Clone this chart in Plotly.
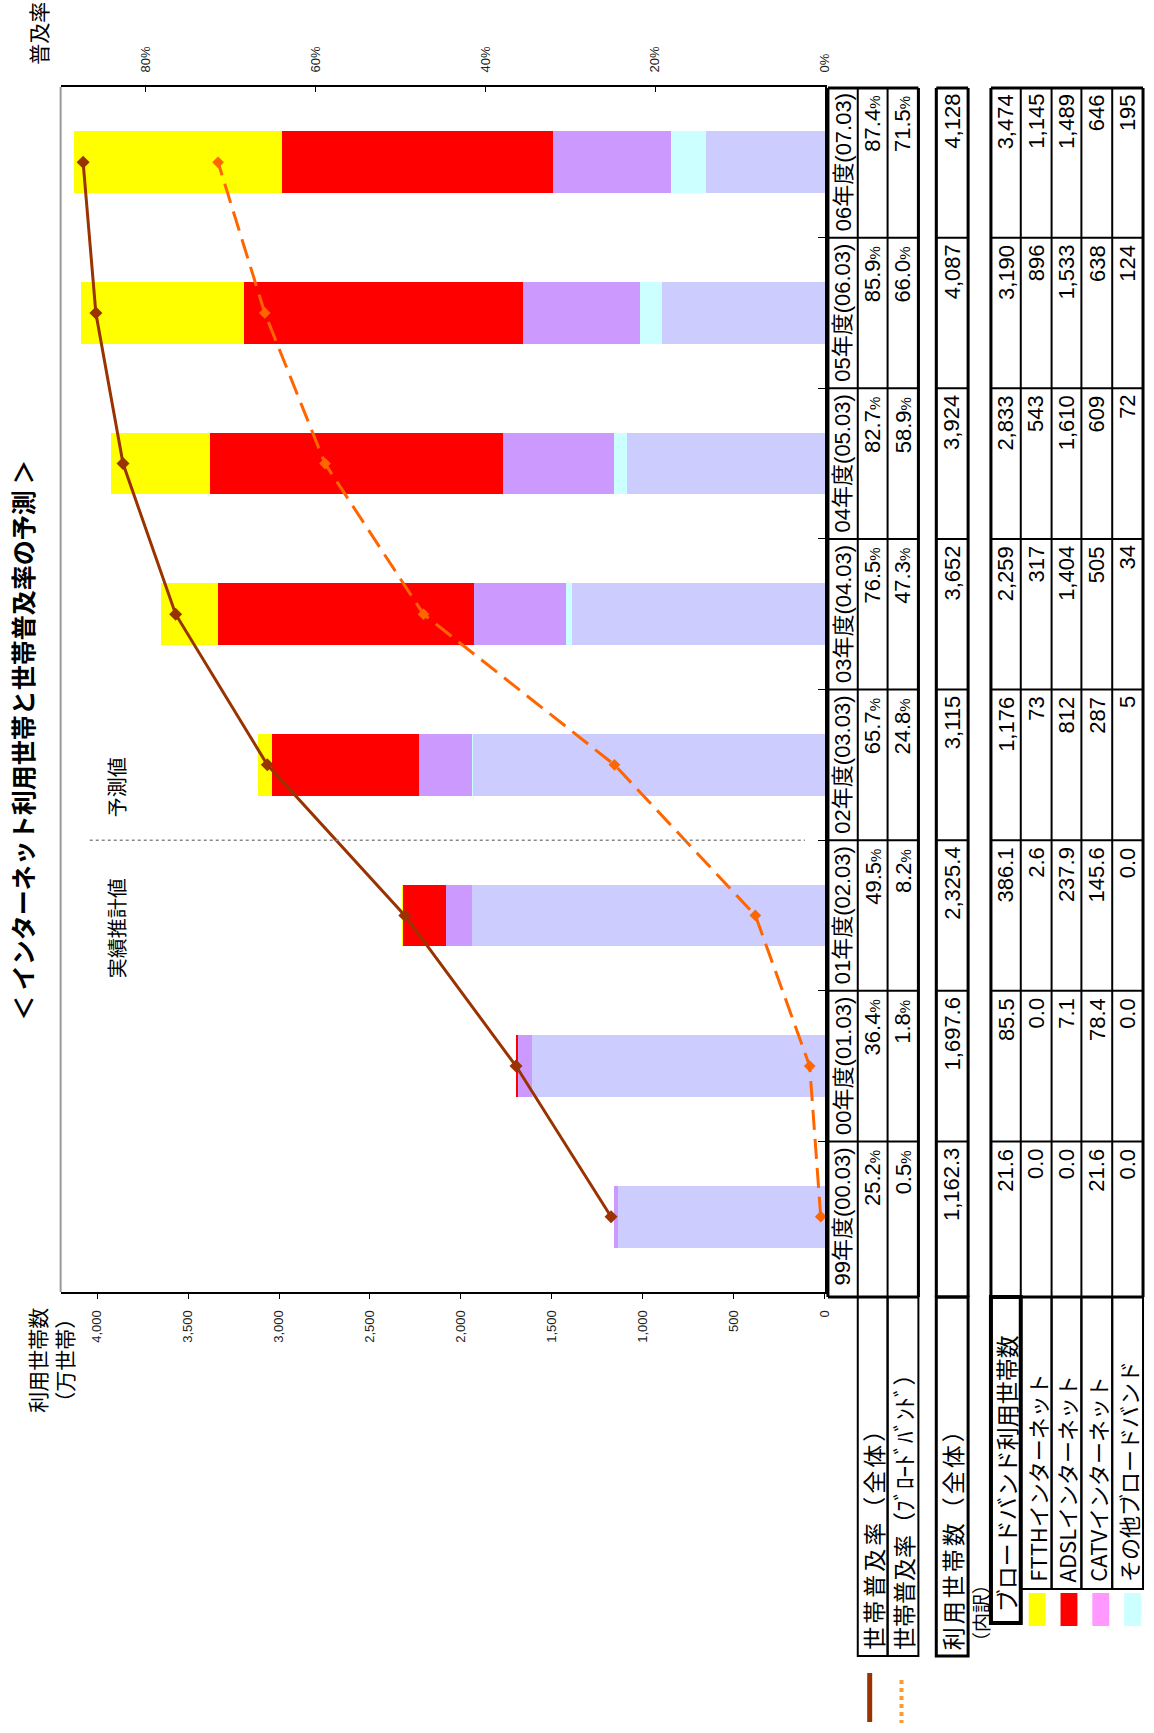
import plotly.graph_objects as go

W, H = 1154, 1733

# ---- data -------------------------------------------------------------
YEARS = ["99年度(00.03)", "00年度(01.03)", "01年度(02.03)", "02年度(03.03)",
         "03年度(04.03)", "04年度(05.03)", "05年度(06.03)", "06年度(07.03)"]
RATE_ALL = [25.2, 36.4, 49.5, 65.7, 76.5, 82.7, 85.9, 87.4]      # 世帯普及率（全体） %
RATE_BB = [0.5, 1.8, 8.2, 24.8, 47.3, 58.9, 66.0, 71.5]          # 世帯普及率（ブロードバンド） %
HOUSEHOLDS = [1162.3, 1697.6, 2325.4, 3115, 3652, 3924, 4087, 4128]  # 利用世帯数（全体） 万世帯
BB_TOTAL = [21.6, 85.5, 386.1, 1176, 2259, 2833, 3190, 3474]
FTTH = [0.0, 0.0, 2.6, 73, 317, 543, 896, 1145]
ADSL = [0.0, 7.1, 237.9, 812, 1404, 1610, 1533, 1489]
CATV = [21.6, 78.4, 145.6, 287, 505, 609, 638, 646]
OTHER_BB = [0.0, 0.0, 0.0, 5, 34, 72, 124, 195]
DECIMALS = [1, 1, 1, 0, 0, 0, 0, 0]
VALUE_TICKS = [0, 500, 1000, 1500, 2000, 2500, 3000, 3500, 4000]
RATE_TICKS = [0, 20, 40, 60, 80]

NON_BB = [t - b for t, b in zip(HOUSEHOLDS, BB_TOTAL)]

# ---- styling ----------------------------------------------------------
LAT = "Liberation Sans, Arial, Noto Sans CJK JP, sans-serif"
JP = "Noto Sans CJK JP, sans-serif"
C_NON = "#CCCCFF"
C_OTHER = "#CCFFFF"
C_CATV = "#CC99FF"
C_ADSL = "#FF0000"
C_FTTH = "#FFFF00"
C_ALL = "#993300"
C_BB = "#FF6600"

PLOT_L, PLOT_R, PLOT_T, PLOT_B = 61, 830, 87, 1292


def px(x):
    return x / W


def py(y):
    return 1 - y / H


fig = go.Figure()

# stacked household bars (horizontal, value axis grows to the left)
for name, vals, col in [("非ブロードバンド", NON_BB, C_NON),
                        ("その他ブロードバンド", OTHER_BB, C_OTHER),
                        ("CATVインターネット", CATV, C_CATV),
                        ("ADSLインターネット", ADSL, C_ADSL),
                        ("FTTHインターネット", FTTH, C_FTTH)]:
    fig.add_trace(go.Bar(x=vals, y=YEARS, orientation="h", name=name,
                         marker=dict(color=col, line=dict(width=0)),
                         width=0.41, xaxis="x", yaxis="y", showlegend=False))

# penetration-rate lines on the percentage axis
fig.add_trace(go.Scatter(x=RATE_ALL, y=YEARS, xaxis="x2", yaxis="y",
                         mode="lines+markers", showlegend=False,
                         line=dict(color=C_ALL, width=3),
                         marker=dict(symbol="diamond", size=10, color=C_ALL)))
fig.add_trace(go.Scatter(x=RATE_BB, y=YEARS, xaxis="x2", yaxis="y",
                         mode="lines+markers", showlegend=False,
                         line=dict(color=C_BB, width=3, dash="20px,9px"),
                         marker=dict(symbol="diamond", size=9, color=C_BB)))

shapes = []
ann = []


def free_text(text, x, y, size, family=JP, bold=False):
    if bold:
        text = f"<b>{text}</b>"
    ann.append(dict(text=text, xref="paper", yref="paper", x=px(x), y=py(y),
                    xanchor="center", yanchor="middle", textangle=-90, showarrow=False,
                    font=dict(family=family, size=size, color="#000")))


# left frame edge
shapes.append(dict(type="line", xref="paper", yref="paper",
                   x0=px(PLOT_L), x1=px(PLOT_L), y0=py(PLOT_T), y1=py(PLOT_B),
                   line=dict(color="#999999", width=2)))
# separator between estimates and forecasts
shapes.append(dict(type="line", xref="x", yref="y", x0=4040, x1=110, y0=2.5, y1=2.5,
                   line=dict(color="#888888", width=1.5, dash="dot")))
free_text("実績推計値", 117, 928, 20)
free_text("予測値", 117, 787, 20)

# titles
free_text("＜ インターネット利用世帯と世帯普及率の予測 ＞", 22, 740, 25, bold=True)
free_text("普及率", 38, 33, 21)
free_text("利用世帯数<br>（万世帯）", 50, 1360, 21)

# ---- data table -------------------------------------------------------
BAND = (PLOT_B - PLOT_T) / 8.0
TT, TB = 88, 1297   # table data section top / bottom


def band(j):
    top = PLOT_T + (7 - j) * BAND
    return top, top + BAND


def rect(x0, y0, x1, y1, w=2):
    shapes.append(dict(type="rect", xref="paper", yref="paper",
                       x0=px(x0), x1=px(x1), y0=py(y0), y1=py(y1),
                       line=dict(color="#000", width=w), fillcolor="rgba(0,0,0,0)"))


def hline(x0, x1, y, w=2):
    shapes.append(dict(type="line", xref="paper", yref="paper",
                       x0=px(x0), x1=px(x1), y0=py(y), y1=py(y),
                       line=dict(color="#000", width=w)))


def vline(x, y0, y1, w=2):
    shapes.append(dict(type="line", xref="paper", yref="paper",
                       x0=px(x), x1=px(x), y0=py(y0), y1=py(y1),
                       line=dict(color="#000", width=w)))


def cell_text(text, xc, y, anchor, size=22, family=LAT):
    ann.append(dict(text=text, xref="paper", yref="paper", x=px(xc), y=py(y),
                    xanchor="center", yanchor=anchor, textangle=-90, showarrow=False,
                    font=dict(family=family, size=size, color="#000")))


G1 = [833, 863, 893, 924]
G2 = [942, 974]
G3 = [997, 1027, 1058, 1088, 1119, 1150]
HDR_B = 1656

# group outlines and grid
for cols in (G1, G2, G3):
    for x in cols:
        vline(x, TT, TB)
    for k in range(9):
        yy = PLOT_T + k * BAND if k < 8 else TB
        hline(cols[0], cols[-1], max(yy, TT), 3 if k in (0, 8) else 2)
    vline(cols[0], TT, TB, 3)
    vline(cols[-1], TT, TB, 3)

# header cells
rect(G1[1], TB, G1[2], HDR_B, 2)
rect(G1[2], TB, G1[3], HDR_B, 2)
rect(G2[0], TB, G2[1], HDR_B, 3)
rect(G3[0], TB, G3[1], 1623, 4)
for a, b in zip(G3[1:-1], G3[2:]):
    rect(a, TB, b, 1589, 2)

pct = '<span style="font-size:15px">%</span>'
for j in range(8):
    top, bot = band(j)
    cell_text(YEARS[j], (G1[0] + G1[1]) / 2, (top + bot) / 2, "middle")
    cell_text(f"{RATE_ALL[j]:.1f}{pct}", (G1[1] + G1[2]) / 2, top + 7, "top")
    cell_text(f"{RATE_BB[j]:.1f}{pct}", (G1[2] + G1[3]) / 2, top + 7, "top")
    d = DECIMALS[j]
    cell_text(f"{HOUSEHOLDS[j]:,.{d}f}", (G2[0] + G2[1]) / 2, top + 5, "top")
    for k, series in enumerate([BB_TOTAL, FTTH, ADSL, CATV, OTHER_BB]):
        cell_text(f"{series[j]:,.{d}f}", (G3[k] + G3[k + 1]) / 2, top + 5, "top")

spaced = '<span style="letter-spacing:3px">{}</span>'
cell_text(spaced.format("世帯普及率（全体）"), (G1[1] + G1[2]) / 2, 1652, "bottom", 23, JP)
cell_text("世帯普及率（ﾌﾞﾛｰﾄﾞﾊﾞﾝﾄﾞ）", (G1[2] + G1[3]) / 2, 1652, "bottom", 23, JP)
cell_text(spaced.format("利用世帯数（全体）"), (G2[0] + G2[1]) / 2, 1652, "bottom", 23, JP)
cell_text("ブロードバンド利用世帯数", (G3[0] + G3[1]) / 2, 1614, "bottom", 23, JP)
for k, lab in enumerate(["FTTHインターネット", "ADSLインターネット",
                         "CATVインターネット", "その他ブロードバンド"]):
    cell_text(lab, (G3[k + 1] + G3[k + 2]) / 2, 1584, "bottom", 22, JP)
cell_text("（内訳）", 986, 1613, "middle", 19, JP)

# legend keys
for (x0, x1), col in zip([(1035, 1052), (1067, 1084), (1099, 1116), (1131, 1148)],
                         [C_FTTH, C_ADSL, "#FF99FF", C_OTHER]):
    shapes.append(dict(type="rect", xref="paper", yref="paper",
                       x0=px(x0), x1=px(x1), y0=py(1593), y1=py(1626),
                       line=dict(width=0), fillcolor=col))
shapes.append(dict(type="line", xref="paper", yref="paper", x0=px(875), x1=px(875),
                   y0=py(1673), y1=py(1722), line=dict(color=C_ALL, width=5)))
shapes.append(dict(type="line", xref="paper", yref="paper", x0=px(907), x1=px(907),
                   y0=py(1680), y1=py(1723), line=dict(color="#FF9933", width=4, dash="dot")))

fig.update_layout(
    width=W, height=H, autosize=False,
    margin=dict(l=0, r=0, t=0, b=0),
    paper_bgcolor="white", plot_bgcolor="white",
    barmode="stack", bargap=0,
    xaxis=dict(domain=[px(PLOT_L), px(PLOT_R)], range=[4200, 0], side="bottom",
               tickvals=VALUE_TICKS, tickformat=",d", tickangle=-90,
               ticks="outside", ticklen=5, tickcolor="#000", ticklabelstandoff=6,
               showline=True, linecolor="#000", linewidth=2, showgrid=False, zeroline=False,
               tickfont=dict(family=LAT, size=13, color="#222")),
    xaxis2=dict(domain=[px(PLOT_L), px(PLOT_R)], range=[90.05, 0], side="top",
                overlaying="x", anchor="y",
                tickvals=RATE_TICKS, ticktext=[f"{v}%" for v in RATE_TICKS], tickangle=-90,
                ticks="inside", ticklen=5, tickcolor="#000", ticklabelstandoff=10,
                showline=True, linecolor="#000", linewidth=2, showgrid=False, zeroline=False,
                tickfont=dict(family=LAT, size=13, color="#222")),
    yaxis=dict(domain=[py(PLOT_B), py(PLOT_T)], type="category",
               categoryorder="array", categoryarray=YEARS, range=[-0.5, 7.5],
               side="right", showticklabels=False, ticks="inside", ticklen=7,
               tickson="boundaries", tickcolor="#000",
               showline=True, linecolor="#000", linewidth=2, showgrid=False),
    shapes=shapes, annotations=ann,
)

fig.write_html("out.html")
